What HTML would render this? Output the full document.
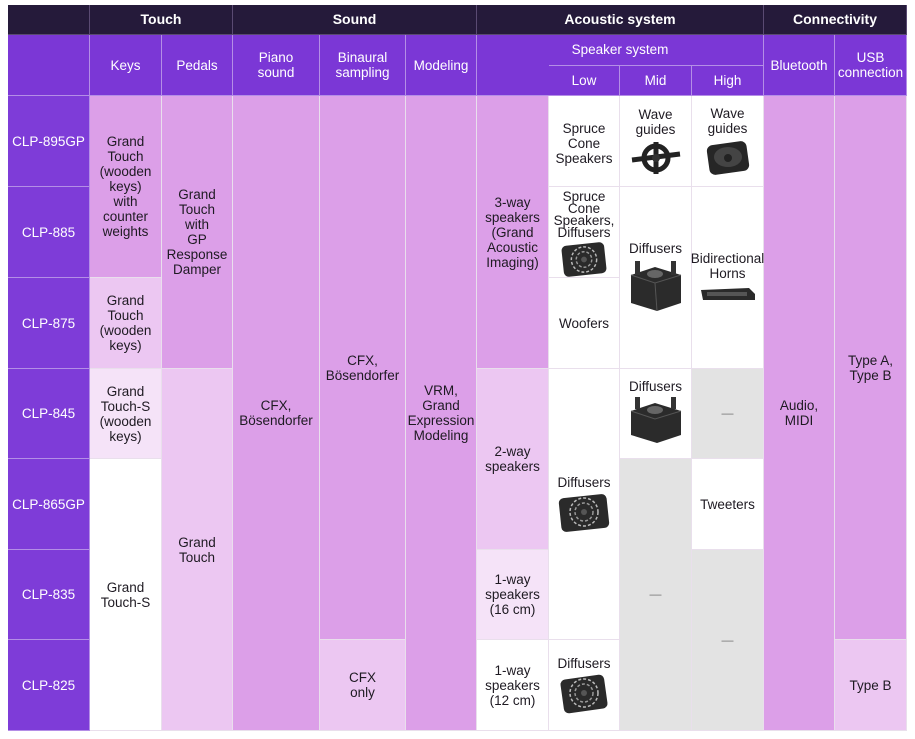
<!DOCTYPE html>
<html><head><meta charset="utf-8"><style>
body{margin:0;width:915px;height:739px;background:#fff;position:relative;overflow:hidden;font-family:"Liberation Sans",sans-serif;}
.c{position:absolute;box-sizing:border-box;border-right:1px solid #e9dfec;border-bottom:1px solid #e9dfec;display:flex;flex-direction:column;align-items:center;justify-content:center;text-align:center;font-size:13.5px;line-height:15px;color:#1e1a22;}
.h{background:#251a3a;color:#fff;font-weight:bold;font-size:14px;border-color:#5a4a72;}
.s{background:#7b37d6;color:#fff;font-size:13.5px;border-color:#b48ee6;}
.m{background:#7e3cd8;color:#fff;font-size:13.5px;border-color:#b48ee6;}
.p{background:#dc9fe8;}
.l{background:#ecc7f2;}
.ll{background:#f5e3f8;}
.w{background:#fff;}
.g{background:#e3e3e3;color:#777;font-size:12px;}
svg{margin-top:3px}
</style></head><body>
<div class="c h" style="left:8px;top:5px;width:82px;height:30px"></div>
<div class="c h" style="left:90px;top:5px;width:143px;height:30px">Touch</div>
<div class="c h" style="left:233px;top:5px;width:244px;height:30px">Sound</div>
<div class="c h" style="left:477px;top:5px;width:287px;height:30px">Acoustic system</div>
<div class="c h" style="left:764px;top:5px;width:143px;height:30px">Connectivity</div>
<div class="c s" style="left:8px;top:35px;width:82px;height:61px"></div>
<div class="c s" style="left:90px;top:35px;width:72px;height:61px">Keys</div>
<div class="c s" style="left:162px;top:35px;width:71px;height:61px">Pedals</div>
<div class="c s" style="left:233px;top:35px;width:87px;height:61px">Piano<br>sound</div>
<div class="c s" style="left:320px;top:35px;width:86px;height:61px">Binaural<br>sampling</div>
<div class="c s" style="left:406px;top:35px;width:71px;height:61px">Modeling</div>
<div class="c s" style="left:477px;top:35px;width:287px;height:61px;justify-content:flex-start;padding-top:7px">Speaker system</div>
<div class="c s" style="left:549px;top:65px;width:71px;height:31px;border-top:1px solid #b48ee6">Low</div>
<div class="c s" style="left:620px;top:65px;width:72px;height:31px;border-top:1px solid #b48ee6">Mid</div>
<div class="c s" style="left:692px;top:65px;width:72px;height:31px;border-top:1px solid #b48ee6">High</div>
<div class="c s" style="left:764px;top:35px;width:71px;height:61px">Bluetooth</div>
<div class="c s" style="left:835px;top:35px;width:72px;height:61px">USB<br>connection</div>
<div class="c m" style="left:8px;top:96px;width:82px;height:91px">CLP-895GP</div>
<div class="c m" style="left:8px;top:187px;width:82px;height:91px">CLP-885</div>
<div class="c m" style="left:8px;top:278px;width:82px;height:91px">CLP-875</div>
<div class="c m" style="left:8px;top:369px;width:82px;height:90px">CLP-845</div>
<div class="c m" style="left:8px;top:459px;width:82px;height:91px">CLP-865GP</div>
<div class="c m" style="left:8px;top:550px;width:82px;height:90px">CLP-835</div>
<div class="c m" style="left:8px;top:640px;width:82px;height:91px">CLP-825</div>
<div class="c p" style="left:90px;top:96px;width:72px;height:182px">Grand<br>Touch<br>(wooden<br>keys)<br>with<br>counter<br>weights</div>
<div class="c l" style="left:90px;top:278px;width:72px;height:91px">Grand<br>Touch<br>(wooden<br>keys)</div>
<div class="c ll" style="left:90px;top:369px;width:72px;height:90px">Grand<br>Touch-S<br>(wooden<br>keys)</div>
<div class="c w" style="left:90px;top:459px;width:72px;height:272px">Grand<br>Touch-S</div>
<div class="c p" style="left:162px;top:96px;width:71px;height:273px">Grand<br>Touch<br>with<br>GP<br>Response<br>Damper</div>
<div class="c l" style="left:162px;top:369px;width:71px;height:362px">Grand<br>Touch</div>
<div class="c p" style="left:233px;top:96px;width:87px;height:635px">CFX,<br>Bösendorfer</div>
<div class="c p" style="left:320px;top:96px;width:86px;height:544px">CFX,<br>Bösendorfer</div>
<div class="c l" style="left:320px;top:640px;width:86px;height:91px">CFX<br>only</div>
<div class="c p" style="left:406px;top:96px;width:71px;height:635px">VRM,<br>Grand<br>Expression<br>Modeling</div>
<div class="c p" style="left:477px;top:96px;width:72px;height:273px">3-way<br>speakers<br>(Grand<br>Acoustic<br>Imaging)</div>
<div class="c l" style="left:477px;top:369px;width:72px;height:181px">2-way<br>speakers</div>
<div class="c ll" style="left:477px;top:550px;width:72px;height:90px">1-way<br>speakers<br>(16 cm)</div>
<div class="c w" style="left:477px;top:640px;width:72px;height:91px">1-way<br>speakers<br>(12 cm)</div>
<div class="c w" style="left:549px;top:96px;width:71px;height:91px;padding-top:4px">Spruce<br>Cone<br>Speakers</div>
<div class="c w" style="left:549px;top:187px;width:71px;height:91px;line-height:12px;padding-top:4px">Spruce<br>Cone<br>Speakers,<br>Diffusers
<svg width="56" height="36" viewBox="0 0 56 36"><rect x="6" y="2" width="44" height="32" rx="5" fill="#2a2a2a" transform="rotate(-6 28 18)"/><circle cx="28" cy="18" r="13" fill="none" stroke="#bbb" stroke-width="1.5" stroke-dasharray="3 2"/><circle cx="28" cy="18" r="8" fill="none" stroke="#999" stroke-width="1.5" stroke-dasharray="3 2"/><circle cx="28" cy="18" r="3" fill="#555"/></svg></div>
<div class="c w" style="left:549px;top:278px;width:71px;height:91px">Woofers</div>
<div class="c w" style="left:549px;top:369px;width:71px;height:271px">Diffusers
<svg width="60" height="40" viewBox="0 0 60 40"><rect x="6" y="3" width="48" height="34" rx="5" fill="#2a2a2a" transform="rotate(-6 30 20)"/><circle cx="30" cy="19" r="14" fill="none" stroke="#bbb" stroke-width="1.5" stroke-dasharray="3 2"/><circle cx="30" cy="19" r="9" fill="none" stroke="#999" stroke-width="1.5" stroke-dasharray="3 2"/><circle cx="30" cy="19" r="3" fill="#555"/></svg></div>
<div class="c w" style="left:549px;top:640px;width:71px;height:91px">Diffusers
<svg width="60" height="40" viewBox="0 0 60 40"><rect x="8" y="3" width="44" height="34" rx="5" fill="#2a2a2a" transform="rotate(-8 30 20)"/><circle cx="30" cy="19" r="14" fill="none" stroke="#bbb" stroke-width="1.5" stroke-dasharray="3 2"/><circle cx="30" cy="19" r="9" fill="none" stroke="#999" stroke-width="1.5" stroke-dasharray="3 2"/><circle cx="30" cy="19" r="3" fill="#555"/></svg></div>
<div class="c w" style="left:620px;top:96px;width:72px;height:91px">Wave<br>guides
<svg width="56" height="36" viewBox="0 0 56 36"><circle cx="28" cy="18" r="12" fill="none" stroke="#222" stroke-width="5"/><path d="M4 20 L52 14 M28 2 L28 34" stroke="#222" stroke-width="5"/><circle cx="28" cy="18" r="4" fill="#333"/></svg></div>
<div class="c w" style="left:620px;top:187px;width:72px;height:182px">Diffusers
<svg width="62" height="56" viewBox="0 0 62 56"><path d="M6 16 L30 8 L56 16 L56 44 L32 52 L6 44 Z" fill="#2b2b2b"/><path d="M6 16 L30 24 L56 16" stroke="#555" fill="none"/><path d="M30 24 L32 52" stroke="#555"/><rect x="10" y="2" width="5" height="14" fill="#333"/><rect x="46" y="2" width="5" height="14" fill="#333"/><ellipse cx="30" cy="15" rx="8" ry="4" fill="#666"/></svg></div>
<div class="c w" style="left:620px;top:369px;width:72px;height:90px;justify-content:flex-start;padding-top:10px">Diffusers
<svg width="62" height="50" viewBox="0 0 62 50"><path d="M6 14 L30 6 L56 14 L56 38 L32 46 L6 38 Z" fill="#2b2b2b"/><path d="M6 14 L30 22 L56 14" stroke="#555" fill="none"/><rect x="10" y="0" width="5" height="12" fill="#333"/><rect x="46" y="0" width="5" height="12" fill="#333"/><ellipse cx="30" cy="13" rx="8" ry="4" fill="#666"/></svg></div>
<div class="c g" style="left:620px;top:459px;width:72px;height:272px">—</div>
<div class="c w" style="left:692px;top:96px;width:72px;height:91px">Wave<br>guides
<svg width="52" height="38" viewBox="0 0 52 38"><rect x="6" y="4" width="40" height="30" rx="6" fill="#262626" transform="rotate(-8 26 19)"/><ellipse cx="26" cy="18" rx="14" ry="10" fill="#444"/><circle cx="26" cy="19" r="4" fill="#222"/></svg></div>
<div class="c w" style="left:692px;top:187px;width:72px;height:182px">Bidirectional<br>Horns
<svg width="62" height="20" viewBox="0 0 62 20"><path d="M4 6 L52 4 L58 10 L58 16 L6 16 Z" fill="#2a2a2a"/><rect x="10" y="8" width="40" height="4" fill="#555"/></svg></div>
<div class="c g" style="left:692px;top:369px;width:72px;height:90px">—</div>
<div class="c w" style="left:692px;top:459px;width:72px;height:91px">Tweeters</div>
<div class="c g" style="left:692px;top:550px;width:72px;height:181px">—</div>
<div class="c p" style="left:764px;top:96px;width:71px;height:635px">Audio,<br>MIDI</div>
<div class="c p" style="left:835px;top:96px;width:72px;height:544px">Type A,<br>Type B</div>
<div class="c l" style="left:835px;top:640px;width:72px;height:91px">Type B</div>
</body></html>
